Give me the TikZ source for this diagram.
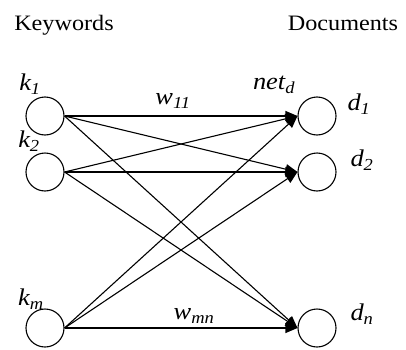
\documentclass[tikz,border=0pt]{standalone}
\usepackage{fontspec}
\setmainfont{Liberation Serif}
\newfontfamily\widefont[FakeStretch=1.1]{Liberation Serif}
\usetikzlibrary{arrows.meta}
\begin{document}
\begin{tikzpicture}[x=1pt,y=1pt,
  unit/.style={draw,circle,line width=1.1pt,minimum size=38pt,inner sep=0pt},
  link/.style={line width=1.1pt,-{Triangle[length=12pt,width=10pt]}},
  heading/.style={font=\widefont\fontsize{22}{26}\selectfont,inner sep=0pt,anchor=base},
  lbl/.style={font=\widefont\fontsize{24}{28}\selectfont\itshape,inner sep=0pt}]
\useasboundingbox (0,0) rectangle (406,349);
% column headings
\node[heading] (hk) at (64,319) {Keywords};
\node[heading] (hd) at (343,319) {Documents};
% keyword units
\node[unit] (k1) at (45,233) {};
\node[unit] (k2) at (45,177) {};
\node[unit] (km) at (45,21) {};
% document units
\node[unit] (d1) at (317,233) {};
\node[unit] (d2) at (317,177) {};
\node[unit] (dn) at (317,21) {};
% unit labels
\node[lbl] (lk1) at (30,265) {k\textsubscript{1}};
\node[lbl] (lk2) at (29,208) {k\textsubscript{2}};
\node[lbl] (lkm) at (31,50) {k\textsubscript{m}};
\node[lbl] (ld1) at (359,245) {d\textsubscript{1}};
\node[lbl] (ld2) at (362,189) {d\textsubscript{2}};
\node[lbl] (ldn) at (362,35) {d\textsubscript{n}};
\node[lbl] (net) at (274,264) {net\textsubscript{d}};
\node[lbl] (w11) at (173,248) {w\textsubscript{11}};
\node[lbl] (wmn) at (194,33) {w\textsubscript{mn}};
% weighted connections
\foreach \k in {k1,k2,km}
  \foreach \d in {d1,d2,dn}
    \draw[link] (\k.east) -- (\d.west);
\end{tikzpicture}
\end{document}
